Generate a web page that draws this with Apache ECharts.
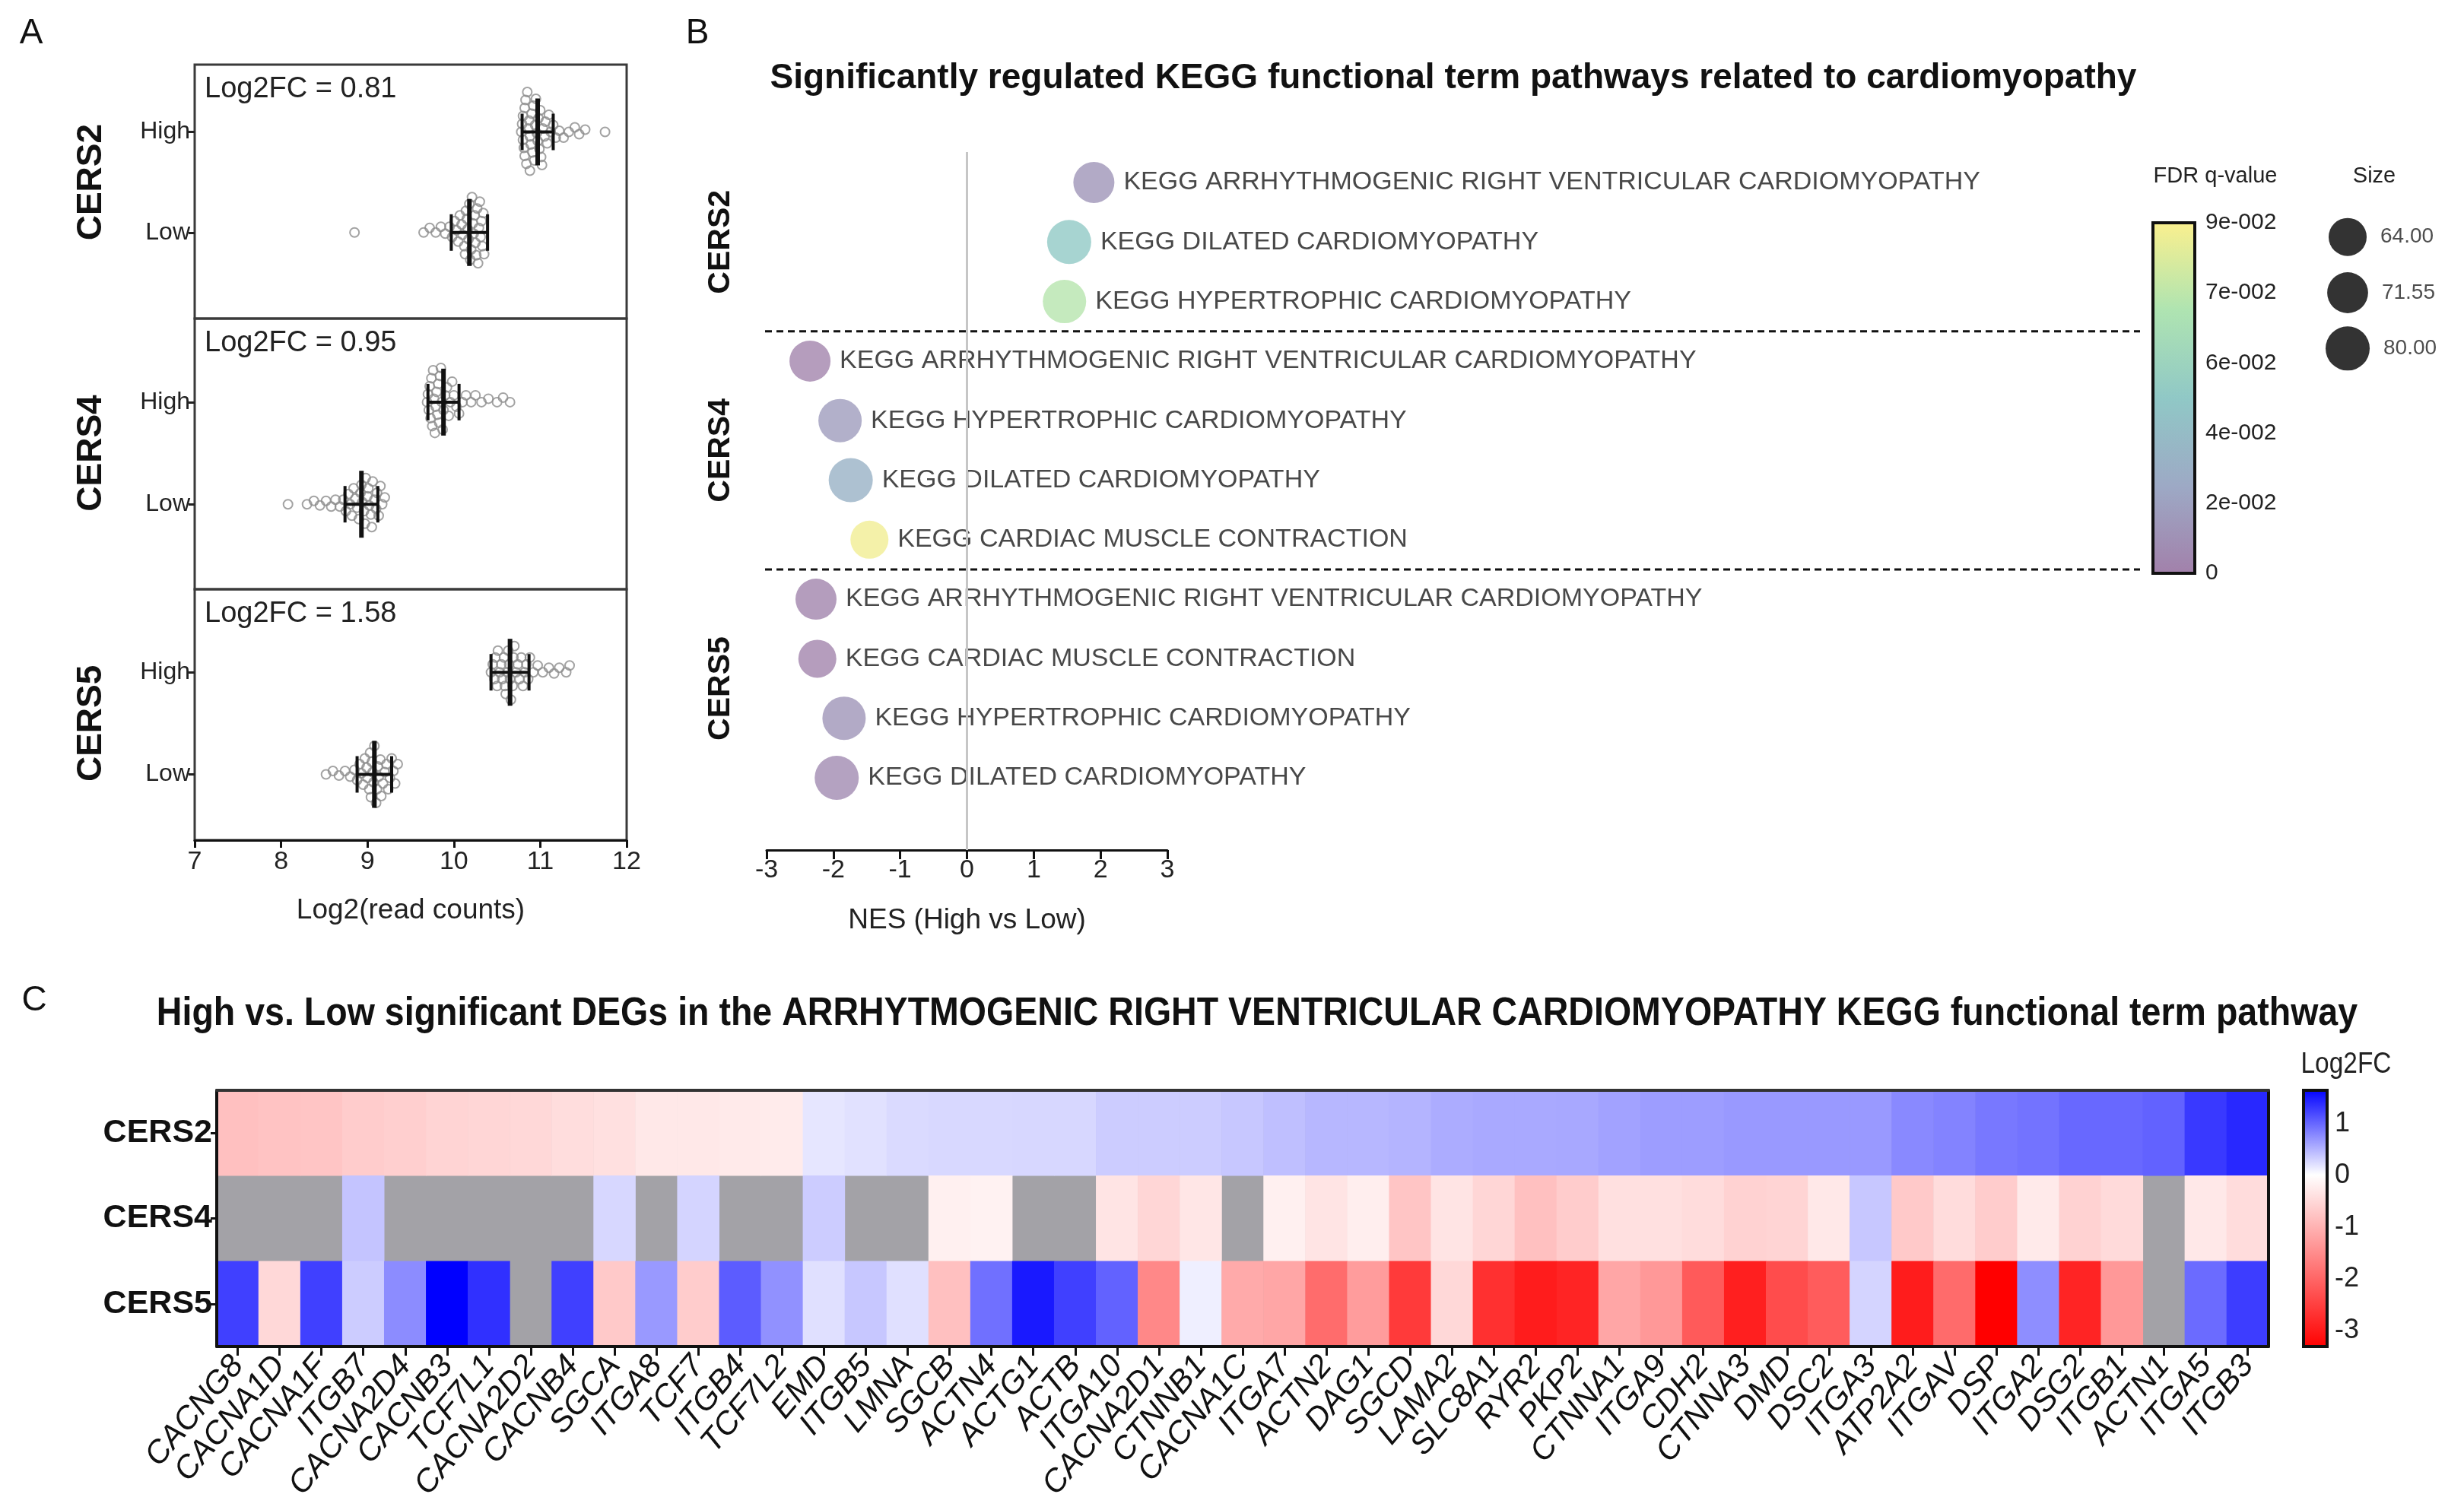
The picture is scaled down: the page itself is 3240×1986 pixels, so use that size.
<!DOCTYPE html>
<html>
<head>
<meta charset="utf-8">
<script src="https://cdn.jsdelivr.net/npm/echarts@6/dist/echarts.min.js"></script>
<style>html,body{margin:0;padding:0;background:#fff}#c{width:3240px;height:1986px}</style>
</head>
<body>
<div id="c"></div>
<script>
// ---------------- DATA ----------------
// Panel A: log2(read counts) per sample, High / Low groups
const aGenes = ['CERS2', 'CERS4', 'CERS5'];
const aLog2FC = ['0.81', '0.95', '1.58'];
const cers2High = [10.78,10.79,10.8,10.8,10.81,10.82,10.82,10.83,10.84,10.85,10.86,10.87,10.88,10.88,10.89,10.9,10.91,10.92,10.93,10.94,10.95,10.96,10.97,10.98,10.99,11.0,11.01,11.02,11.03,11.05,11.06,11.08,11.1,11.12,11.15,11.18,11.22,11.27,11.33,11.4,11.45,11.52,11.75];
const cers2Low = [8.85,9.65,9.72,9.79,9.85,9.9,9.95,9.98,10.01,10.03,10.05,10.07,10.09,10.1,10.12,10.13,10.14,10.15,10.16,10.17,10.18,10.19,10.2,10.21,10.22,10.23,10.24,10.25,10.26,10.27,10.28,10.29,10.3,10.31,10.32,10.33,10.34,10.35];
const cers4High = [9.69,9.7,9.71,9.72,9.73,9.74,9.75,9.76,9.77,9.78,9.79,9.8,9.81,9.82,9.83,9.84,9.85,9.86,9.87,9.88,9.9,9.92,9.94,9.96,9.98,10.0,10.03,10.06,10.1,10.14,10.2,10.25,10.32,10.4,10.5,10.57,10.65];
const cers4Low = [8.08,8.3,8.38,8.45,8.52,8.58,8.63,8.68,8.72,8.75,8.78,8.8,8.82,8.84,8.86,8.88,8.9,8.92,8.93,8.94,8.96,8.97,8.98,9.0,9.01,9.02,9.04,9.05,9.06,9.08,9.1,9.11,9.13,9.15,9.17,9.2];
const cers5High = [10.43,10.45,10.47,10.48,10.5,10.51,10.53,10.55,10.56,10.58,10.59,10.6,10.62,10.63,10.64,10.65,10.66,10.68,10.69,10.7,10.72,10.74,10.76,10.78,10.8,10.82,10.84,10.86,10.88,10.92,10.97,11.03,11.1,11.16,11.22,11.3,11.34];
const cers5Low = [8.52,8.6,8.67,8.74,8.8,8.85,8.88,8.91,8.93,8.95,8.97,8.99,9.0,9.02,9.03,9.04,9.05,9.06,9.07,9.08,9.1,9.11,9.12,9.13,9.15,9.16,9.18,9.2,9.22,9.24,9.26,9.28,9.3,9.32,9.35];
const aMeanHigh = [10.97, 9.88, 10.65];
const aSdHigh = [0.18, 0.18, 0.22];
const aMeanLow = [10.18, 8.93, 9.08];
const aSdLow = [0.21, 0.19, 0.2];
const aTickLabels = ['Low', 'High'];

// Panel B: GSEA results
const nesGroup = ['CERS2','CERS2','CERS2','CERS4','CERS4','CERS4','CERS4','CERS5','CERS5','CERS5','CERS5'];
const nesTerm = [
  'KEGG ARRHYTHMOGENIC RIGHT VENTRICULAR CARDIOMYOPATHY',
  'KEGG DILATED CARDIOMYOPATHY',
  'KEGG HYPERTROPHIC CARDIOMYOPATHY',
  'KEGG ARRHYTHMOGENIC RIGHT VENTRICULAR CARDIOMYOPATHY',
  'KEGG HYPERTROPHIC CARDIOMYOPATHY',
  'KEGG DILATED CARDIOMYOPATHY',
  'KEGG CARDIAC MUSCLE CONTRACTION',
  'KEGG ARRHYTHMOGENIC RIGHT VENTRICULAR CARDIOMYOPATHY',
  'KEGG CARDIAC MUSCLE CONTRACTION',
  'KEGG HYPERTROPHIC CARDIOMYOPATHY',
  'KEGG DILATED CARDIOMYOPATHY'
];
const nesValue = [1.9, 1.53, 1.46, -2.35, -1.9, -1.74, -1.46, -2.26, -2.24, -1.84, -1.95];
const nesFDR = [0.012, 0.047, 0.072, 0.002, 0.016, 0.03, 0.09, 0.003, 0.002, 0.012, 0.006];
const nesSize = [72, 80, 78, 72, 78, 80, 64, 72, 64, 78, 80];
const fdrTickLabels = ['0', '2e-002', '4e-002', '6e-002', '7e-002', '9e-002'];
const fdrMax = 0.093;
const sizeLegend = [64.00, 71.55, 80.00];

// Panel C: Log2FC heatmap
const heatRows = ['CERS2', 'CERS4', 'CERS5'];
const geneNames = ['CACNG8','CACNA1D','CACNA1F','ITGB7','CACNA2D4','CACNB3','TCF7L1','CACNA2D2','CACNB4','SGCA','ITGA8','TCF7','ITGB4','TCF7L2','EMD','ITGB5','LMNA','SGCB','ACTN4','ACTG1','ACTB','ITGA10','CACNA2D1','CTNNB1','CACNA1C','ITGA7','ACTN2','DAG1','SGCD','LAMA2','SLC8A1','RYR2','PKP2','CTNNA1','ITGA9','CDH2','CTNNA3','DMD','DSC2','ITGA3','ATP2A2','ITGAV','DSP','ITGA2','DSG2','ITGB1','ACTN1','ITGA5','ITGB3'];
const fcCERS2 = [-0.82,-0.78,-0.75,-0.66,-0.62,-0.55,-0.53,-0.5,-0.44,-0.4,-0.3,-0.3,-0.27,-0.25,0.16,0.19,0.24,0.25,0.25,0.26,0.26,0.33,0.33,0.33,0.36,0.41,0.46,0.46,0.48,0.53,0.55,0.55,0.56,0.6,0.63,0.63,0.66,0.66,0.66,0.66,0.76,0.8,0.87,0.9,0.97,0.97,1.01,1.27,1.38];
const fcCERS4 = [null,null,null,0.38,null,null,null,null,null,0.26,null,0.28,null,null,0.33,null,null,-0.2,-0.17,null,null,-0.35,-0.53,-0.32,null,-0.2,-0.35,-0.22,-0.75,-0.35,-0.53,-0.82,-0.66,-0.4,-0.4,-0.45,-0.58,-0.55,-0.3,0.36,-0.7,-0.45,-0.66,-0.27,-0.58,-0.48,null,-0.3,-0.45];
const fcCERS5 = [1.23,-0.5,1.23,0.33,0.74,1.64,1.33,null,1.23,-0.7,0.66,-0.66,1.05,0.71,0.2,0.36,0.2,-0.82,0.92,1.48,1.23,1.01,-1.55,0.1,-1.1,-1.15,-1.9,-1.28,-2.55,-0.5,-2.68,-2.94,-2.84,-1.15,-1.33,-2.14,-2.9,-2.31,-2.1,0.28,-2.94,-1.92,-3.3,0.73,-2.84,-1.33,null,0.95,1.25];
const heatMin = -3.3, heatMax = 1.64;
const heatTicks = [1, 0, -1, -2, -3];

// ---------------- LAYOUT / STYLE ----------------
const FONT = "'Liberation Sans', Arial, Helvetica, sans-serif";
const A_LEFT = 256, A_WIDTH = 568;
const A_TOP = [85, 419, 775], A_BOTTOM = [419, 775, 1105];
const A_HIGH_Y = [173.5, 528.9, 884.2], A_LOW_Y = [305.8, 663.2, 1018.5];
const A_XMIN = 7, A_XMAX = 12;
const DOT = 12;

const viridisLight = ['#a280aa', '#9da9c5', '#90c8c6', '#afe4b1', '#fbf08e'];
const sizeToPx = s => 50 + (s - 64) / 16 * 8;

function heatColor(v) {
  if (v >= 0) { const c = Math.round(255 * (1 - Math.min(1, v / heatMax))); return 'rgb(' + c + ',' + c + ',255)'; }
  const c = Math.round(255 * (1 - Math.min(1, v / heatMin))); return 'rgb(255,' + c + ',' + c + ')';
}
const heatColors = [];
for (let i = 0; i <= 60; i++) heatColors.push(heatColor(heatMin + (heatMax - heatMin) * i / 60));

// beeswarm layout (pixel space) for panel A
function swarm(values, rowVal, unitPx) {
  const pxPerX = A_WIDTH / (A_XMAX - A_XMIN);
  const sorted = values.slice().sort((a, b) => a - b);
  const placed = [];
  const minD = DOT * 0.8, step = 1.5;
  const out = [];
  sorted.forEach(v => {
    const x = v * pxPerX;
    let off = 0;
    for (let k = 0; k < 400; k++) {
      const o = (k % 2 === 1 ? 1 : -1) * Math.ceil(k / 2) * step;
      if (placed.every(p => (p.x - x) * (p.x - x) + (p.y - o) * (p.y - o) >= minD * minD)) { off = o; break; }
    }
    placed.push({ x: x, y: off });
    out.push([v, rowVal + off / unitPx]);
  });
  return out;
}

const highSets = [cers2High, cers4High, cers5High];
const lowSets = [cers2Low, cers4Low, cers5Low];

const grids = [], xAxes = [], yAxes = [], series = [], graphics = [];

// ---------- Panel A ----------
for (let g = 0; g < 3; g++) {
  const unit = A_LOW_Y[g] - A_HIGH_Y[g];
  const ymax = 1 + (A_HIGH_Y[g] - A_TOP[g]) / unit;
  const ymin = -(A_BOTTOM[g] - A_LOW_Y[g]) / unit;
  grids.push({ left: A_LEFT, top: A_TOP[g], width: A_WIDTH, height: A_BOTTOM[g] - A_TOP[g], show: true, borderColor: '#3a3a3a', borderWidth: 3, backgroundColor: 'transparent' });
  const last = g === 2;
  xAxes.push({
    gridIndex: g, type: 'value', min: A_XMIN, max: A_XMAX, interval: 1,
    axisLine: { show: last, onZero: false, lineStyle: { color: '#111', width: 3 } },
    axisTick: { show: last, length: 10, lineStyle: { color: '#111', width: 3 } },
    axisLabel: { show: last, fontSize: 34, color: '#222', margin: 12, fontFamily: FONT },
    splitLine: { show: false },
    name: last ? 'Log2(read counts)' : '', nameLocation: 'middle', nameGap: 74,
    nameTextStyle: { fontSize: 37, color: '#222', fontFamily: FONT }
  });
  yAxes.push({
    gridIndex: g, type: 'value', min: ymin, max: ymax,
    axisLine: { show: false },
    axisTick: { show: true, customValues: [0, 1], length: 8, lineStyle: { color: '#222', width: 3 } },
    axisLabel: { show: true, customValues: [0, 1], formatter: v => aTickLabels[Math.round(v)], fontSize: 32, color: '#222', margin: 6, fontFamily: FONT },
    splitLine: { show: false }
  });
  const pts = swarm(highSets[g], 1, unit).concat(swarm(lowSets[g], 0, unit));
  series.push({
    type: 'scatter', xAxisIndex: g, yAxisIndex: g, data: pts, symbol: 'circle', symbolSize: DOT,
    itemStyle: { color: 'rgba(255,255,255,0)', borderColor: '#8c8c8c', borderWidth: 2 },
    silent: true, z: 3
  });
  series.push({
    type: 'custom', xAxisIndex: g, yAxisIndex: g, z: 5, silent: true,
    data: [[aMeanHigh[g], aSdHigh[g], 1], [aMeanLow[g], aSdLow[g], 0]],
    renderItem: function (params, api) {
      const m = api.value(0), sd = api.value(1), r = api.value(2);
      const c = api.coord([m, r]), l = api.coord([m - sd, r]), h = api.coord([m + sd, r]);
      const st = { stroke: '#111', lineWidth: 4 };
      return { type: 'group', children: [
        { type: 'line', shape: { x1: c[0], y1: c[1] - 44, x2: c[0], y2: c[1] + 44 }, style: { stroke: '#111', lineWidth: 6 } },
        { type: 'line', shape: { x1: l[0], y1: l[1], x2: h[0], y2: h[1] }, style: st },
        { type: 'line', shape: { x1: l[0], y1: l[1] - 24, x2: l[0], y2: l[1] + 24 }, style: st },
        { type: 'line', shape: { x1: h[0], y1: h[1] - 24, x2: h[0], y2: h[1] + 24 }, style: st }
      ] };
    }
  });
  graphics.push({ type: 'text', x: 269, y: A_TOP[g] + 33, style: { text: 'Log2FC = ' + aLog2FC[g], fontSize: 38, fontFamily: FONT, fill: '#222', align: 'left', verticalAlign: 'middle' } });
  graphics.push({ type: 'text', x: 120, y: (A_HIGH_Y[g] + A_LOW_Y[g]) / 2, rotation: Math.PI / 2, style: { text: aGenes[g], fontSize: 46, fontWeight: 'bold', fontFamily: FONT, fill: '#111', align: 'center', verticalAlign: 'middle' } });
}

// ---------- Panel B ----------
const B_ROW0 = 240, B_ROWSTEP = 78.3, B_TOP = 200, B_BOTTOM = 1118;
const bMin = (B_TOP - B_ROW0) / B_ROWSTEP, bMax = (B_BOTTOM - B_ROW0) / B_ROWSTEP;
const bGroups = [];
nesGroup.forEach((g, i) => {
  let grp = bGroups.find(x => x.name === g);
  if (!grp) { grp = { name: g, first: i, last: i }; bGroups.push(grp); }
  grp.last = i;
});
const bCenters = bGroups.map(g => (g.first + g.last) / 2);
const bSeps = bGroups.slice(0, -1).map(g => [0, g.last + 0.5]);

grids.push({ left: 1008, top: B_TOP, width: 527, height: B_BOTTOM - B_TOP });           // 3
grids.push({ left: 1006, top: B_TOP, width: 1808, height: B_BOTTOM - B_TOP });          // 4
xAxes.push({
  gridIndex: 3, type: 'value', min: -3, max: 3, interval: 1,
  axisLine: { show: true, onZero: false, lineStyle: { color: '#111', width: 3 } },
  axisTick: { show: true, length: 12, lineStyle: { color: '#111', width: 3 } },
  axisLabel: { fontSize: 34, color: '#222', margin: 10, fontFamily: FONT },
  splitLine: { show: false },
  name: 'NES (High vs Low)', nameLocation: 'middle', nameGap: 74,
  nameTextStyle: { fontSize: 37, color: '#222', fontFamily: FONT }
});
yAxes.push({
  gridIndex: 3, type: 'value', inverse: true, min: bMin, max: bMax,
  axisLine: { show: false }, axisTick: { show: false }, splitLine: { show: false },
  axisLabel: { show: true, customValues: bCenters, rotate: 90, margin: 40,
    formatter: v => { const i = bCenters.findIndex(c => Math.abs(c - v) < 1e-6); return i >= 0 ? bGroups[i].name : ''; },
    fontSize: 41, fontWeight: 'bold', color: '#111', fontFamily: FONT }
});
xAxes.push({ gridIndex: 4, type: 'value', min: 0, max: 1, show: false });
yAxes.push({ gridIndex: 4, type: 'value', inverse: true, min: bMin, max: bMax, show: false });

const scatterB = series.length;
series.push({
  type: 'scatter', xAxisIndex: 3, yAxisIndex: 3, z: 4,
  data: nesValue.map((v, i) => ({ value: [v, i, nesFDR[i], nesSize[i]], name: nesTerm[i] })),
  symbolSize: val => sizeToPx(val[3]),
  label: { show: true, position: 'right', distance: 12, formatter: '{b}', fontSize: 34, color: '#1a1a1a', fontFamily: FONT },
  markLine: { silent: true, symbol: 'none', label: { show: false }, lineStyle: { color: '#c6c6c6', width: 3, type: 'solid' }, data: [{ xAxis: 0 }] },
  labelLayout: { hideOverlap: false }
});
series.push({
  type: 'custom', xAxisIndex: 4, yAxisIndex: 4, silent: true, z: 2, data: bSeps,
  renderItem: function (params, api) {
    const y = api.coord([0, api.value(1)])[1];
    const cs = params.coordSys;
    return { type: 'line', shape: { x1: cs.x, y1: y, x2: cs.x + cs.width, y2: y }, style: { stroke: '#111', lineWidth: 3, lineDash: [9, 6] } };
  }
});

// FDR colorbar
grids.push({ left: 2831, top: 293, width: 55, height: 461 });  // 5
xAxes.push({ gridIndex: 5, type: 'category', data: ['q'], show: false });
yAxes.push({
  gridIndex: 5, type: 'value', position: 'right', min: 0, max: fdrMax, interval: fdrMax / 5,
  axisLine: { show: false }, splitLine: { show: false },
  axisTick: { show: true, inside: true, length: 8, lineStyle: { color: '#444', width: 3 } },
  axisLabel: { fontSize: 30, color: '#222', margin: 14, fontFamily: FONT, formatter: v => fdrTickLabels[Math.round(v / (fdrMax / 5))] }
});
yAxes.push({
  gridIndex: 5, type: 'value', position: 'left', min: 0, max: fdrMax, interval: fdrMax / 5,
  axisLine: { show: false }, splitLine: { show: false }, axisLabel: { show: false },
  axisTick: { show: true, inside: true, length: 8, lineStyle: { color: '#444', width: 3 } }
});
function barRender(stops) {
  return function (params, api) {
    const cs = params.coordSys;
    const top = api.coord([0, api.value(2)])[1], bot = api.coord([0, api.value(1)])[1];
    return { type: 'rect', z2: -1, shape: { x: cs.x, y: top, width: cs.width, height: bot - top },
      style: { fill: new echarts.graphic.LinearGradient(0, 0, 0, 1, stops), stroke: '#111', lineWidth: 4 } };
  };
}
series.push({
  type: 'custom', xAxisIndex: 5, yAxisIndex: 5, silent: true, z: 1, data: [[0, 0, fdrMax]],
  renderItem: barRender(viridisLight.slice().reverse().map((c, i, arr) => ({ offset: i / (arr.length - 1), color: c })))
});

// Size legend
grids.push({ left: 3060, top: 275, width: 54, height: 220 });  // 6
xAxes.push({ gridIndex: 6, type: 'value', min: 0, max: 1, show: false });
yAxes.push({ gridIndex: 6, type: 'category', inverse: true, data: sizeLegend.map(v => v.toFixed(2)), show: false });
series.push({
  type: 'scatter', xAxisIndex: 6, yAxisIndex: 7, silent: true,
  data: sizeLegend.map((v, i) => [0.5, i, v]),
  symbolSize: val => sizeToPx(val[2]),
  itemStyle: { color: '#000' },
  label: { show: true, position: 'right', distance: 18, formatter: p => p.value[2].toFixed(2), fontSize: 28, color: '#222', fontFamily: FONT }
});

// ---------- Panel C ----------
grids.push({ left: 285, top: 1434, width: 2698, height: 337, show: true, backgroundColor: '#a3a2a7', borderWidth: 0 });  // 7
xAxes.push({
  gridIndex: 7, type: 'category', data: geneNames, position: 'bottom', z: 10,
  axisLine: { show: true, lineStyle: { color: '#111', width: 4 } },
  axisTick: { show: true, alignWithLabel: true, length: 12, lineStyle: { color: '#111', width: 3 } },
  axisLabel: { rotate: 50, interval: 0, fontSize: 42, color: '#111', margin: 18, fontFamily: FONT, fontStyle: 'italic' },
  splitLine: { show: false }
});
yAxes.push({
  gridIndex: 7, type: 'category', data: heatRows, inverse: true, z: 10,
  axisLine: { show: true, lineStyle: { color: '#111', width: 4 } },
  axisTick: { show: true, alignWithLabel: true, length: 8, lineStyle: { color: '#111', width: 3 } },
  axisLabel: { fontSize: 43, fontWeight: 'bold', color: '#111', margin: 6, fontFamily: FONT },
  splitLine: { show: false }
});
xAxes.push({ gridIndex: 7, type: 'category', data: geneNames, position: 'top', z: 10,
  axisLine: { show: true, lineStyle: { color: '#333', width: 4 } }, axisTick: { show: false }, axisLabel: { show: false } });
yAxes.push({ gridIndex: 7, type: 'category', data: heatRows, inverse: true, position: 'right', z: 10,
  axisLine: { show: true, lineStyle: { color: '#111', width: 4 } }, axisTick: { show: false }, axisLabel: { show: false } });

const heatData = [];
[fcCERS2, fcCERS4, fcCERS5].forEach((row, r) => row.forEach((v, i) => { if (v !== null) heatData.push([i, r, v]); }));
const heatSeries = series.length;
series.push({ type: 'heatmap', xAxisIndex: 7, yAxisIndex: 8, data: heatData, silent: true, z: 2, itemStyle: { borderWidth: 0 } });

// Log2FC colorbar
grids.push({ left: 3029, top: 1434, width: 31, height: 337 });  // 8
xAxes.push({ gridIndex: 8, type: 'category', data: ['c'], show: false });
yAxes.push({
  gridIndex: 8, type: 'value', position: 'right', min: heatMin, max: heatMax,
  axisLine: { show: false }, splitLine: { show: false },
  axisTick: { show: true, customValues: heatTicks, inside: true, length: 9, lineStyle: { color: '#333', width: 3 } },
  axisLabel: { customValues: heatTicks, fontSize: 36, color: '#222', margin: 10, fontFamily: FONT }
});
yAxes.push({
  gridIndex: 8, type: 'value', position: 'left', min: heatMin, max: heatMax,
  axisLine: { show: false }, splitLine: { show: false }, axisLabel: { show: false },
  axisTick: { show: true, customValues: heatTicks, inside: true, length: 9, lineStyle: { color: '#333', width: 3 } }
});
const zeroFrac = heatMax / (heatMax - heatMin);
series.push({
  type: 'custom', xAxisIndex: 9, yAxisIndex: 11, silent: true, z: 1, data: [[0, heatMin, heatMax]],
  renderItem: barRender([{ offset: 0, color: heatColor(heatMax) }, { offset: zeroFrac, color: '#ffffff' }, { offset: 1, color: heatColor(heatMin) }])
});

// ---------- Free texts ----------
graphics.push(
  { type: 'text', x: 41, y: 44, style: { text: 'A', fontSize: 46, fontFamily: FONT, fill: '#111', align: 'center', verticalAlign: 'middle' } },
  { type: 'text', x: 917, y: 44, style: { text: 'B', fontSize: 46, fontFamily: FONT, fill: '#111', align: 'center', verticalAlign: 'middle' } },
  { type: 'text', x: 45, y: 1316, style: { text: 'C', fontSize: 46, fontFamily: FONT, fill: '#111', align: 'center', verticalAlign: 'middle' } },
  { type: 'text', x: 1911, y: 103, style: { text: 'Significantly regulated KEGG functional term pathways related to cardiomyopathy', fontSize: 46, fontWeight: 'bold', fontFamily: FONT, fill: '#111', align: 'center', verticalAlign: 'middle' } },
  { type: 'text', x: 2913, y: 232, style: { text: 'FDR q-value', fontSize: 29, fontFamily: FONT, fill: '#222', align: 'center', verticalAlign: 'middle' } },
  { type: 'text', x: 3122, y: 232, style: { text: 'Size', fontSize: 29, fontFamily: FONT, fill: '#222', align: 'center', verticalAlign: 'middle' } },
  { type: 'text', x: 1653, y: 1334, scaleX: 0.895, originX: 0, style: { text: 'High vs. Low significant DEGs in the ARRHYTMOGENIC RIGHT VENTRICULAR CARDIOMYOPATHY KEGG functional term pathway', fontSize: 52, fontWeight: 'bold', fontFamily: FONT, fill: '#111', align: 'center', verticalAlign: 'middle' } },
  { type: 'text', x: 3085, y: 1401, scaleX: 0.88, style: { text: 'Log2FC', fontSize: 38, fontFamily: FONT, fill: '#222', align: 'center', verticalAlign: 'middle' } }
);

const option = {
  backgroundColor: '#ffffff',
  animation: false,
  textStyle: { fontFamily: FONT },
  grid: grids,
  xAxis: xAxes,
  yAxis: yAxes,
  visualMap: [
    { type: 'continuous', show: false, seriesIndex: scatterB, dimension: 2, min: 0, max: fdrMax, inRange: { color: viridisLight } },
    { type: 'continuous', show: false, seriesIndex: heatSeries, dimension: 2, min: heatMin, max: heatMax, inRange: { color: heatColors } }
  ],
  series: series,
  graphic: graphics
};

const chart = echarts.init(document.getElementById('c'), null, { renderer: 'canvas', width: 3240, height: 1986 });
chart.setOption(option);
</script>
</body>
</html>
